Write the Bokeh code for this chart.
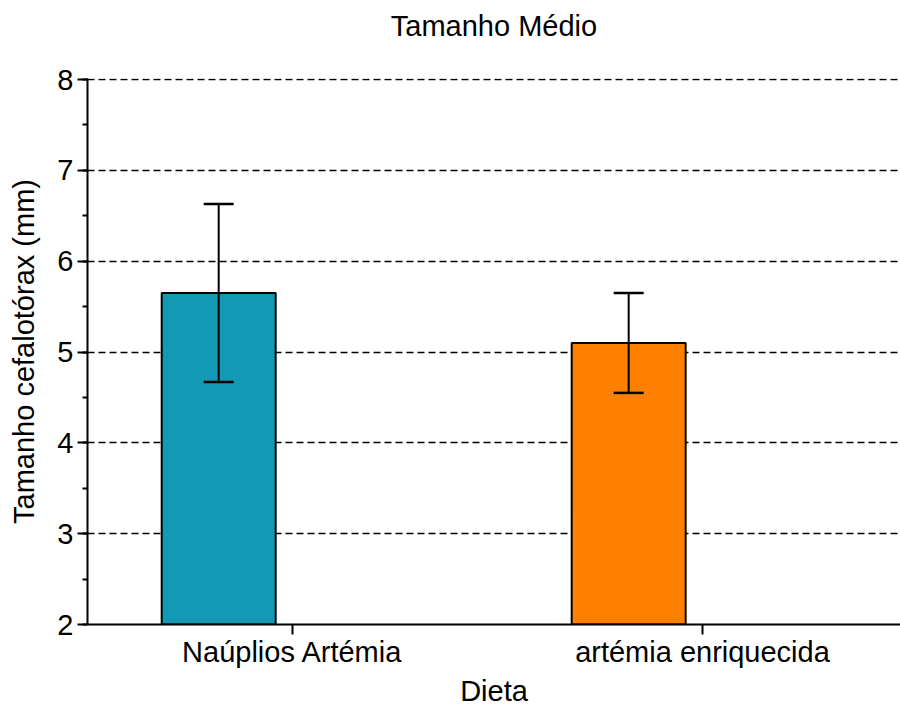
from bokeh.plotting import figure
from bokeh.models import ColumnDataSource, Range1d, FixedTicker, SingleIntervalTicker, Whisker, TeeHead, LinearAxis
from bokeh.embed import file_html
from bokeh.resources import INLINE

title_text = "Tamanho Médio"
categories = ["Naúplios Artémia", "artémia enriquecida"]
means = [5.65, 5.10]
errors = [0.98, 0.55]
colors = ["#129AB4", "#FF8000"]
y_ticks = [2, 3, 4, 5, 6, 7, 8]

FONT = "Liberation Sans"
FS = "29px"
offset = -0.18
bar_w = 0.278

pos = [i + 0.5 for i in range(len(categories))]
src = ColumnDataSource(dict(
    x=[p + offset for p in pos],
    top=means,
    upper=[m + e for m, e in zip(means, errors)],
    lower=[m - e for m, e in zip(means, errors)],
    color=colors,
))

p = figure(width=900, height=709, output_backend="svg", toolbar_location=None,
           x_range=Range1d(0, 1.983), y_range=Range1d(y_ticks[0], y_ticks[-1] + 0.012),
           min_border_left=87, min_border_right=0, min_border_top=78, min_border_bottom=78)
p.outline_line_color = None
p.background_fill_color = "white"
p.border_fill_color = "white"

# axes (take the default bottom and left axes explicitly)
xa = p.below[0]
yaxis = p.left[0]
xa.ticker = FixedTicker(ticks=pos)
xa.major_label_overrides = {pos[i]: categories[i] for i in range(len(categories))}
xa.axis_label = "Dieta"
yaxis.ticker = SingleIntervalTicker(interval=1, num_minor_ticks=2)
yaxis.axis_label = "Tamanho cefalotórax (mm)"

for ax in (xa, yaxis):
    ax.axis_line_color = "black"
    ax.axis_line_width = 2
    ax.major_tick_line_color = "black"
    ax.major_tick_line_width = 2
    ax.major_tick_out = 10
    ax.major_tick_in = 0
    ax.minor_tick_line_color = "black"
    ax.minor_tick_line_width = 2
    ax.minor_tick_out = 5
    ax.minor_tick_in = 0
    ax.major_label_text_font = FONT
    ax.major_label_text_font_size = FS
    ax.major_label_text_color = "black"
    ax.axis_label_text_font = FONT
    ax.axis_label_text_font_size = FS
    ax.axis_label_text_font_style = "normal"
    ax.axis_label_text_color = "black"
xa.minor_tick_line_color = None
xa.major_label_standoff = 1
xa.axis_label_standoff = 4
yaxis.major_label_standoff = 4
yaxis.axis_label_standoff = 14

# title drawn as the label of a bare axis above the frame
top_axis = LinearAxis(axis_label=title_text, ticker=FixedTicker(ticks=[]),
                      axis_line_color=None, major_tick_line_color=None, minor_tick_line_color=None,
                      major_tick_out=0, minor_tick_out=0, major_label_text_font_size="0px",
                      major_label_standoff=0, axis_label_standoff=37,
                      axis_label_text_font=FONT, axis_label_text_font_size=FS,
                      axis_label_text_font_style="normal", axis_label_text_color="black")
p.add_layout(top_axis, "above")

p.vbar(x="x", top="top", bottom=0, width=bar_w, source=src,
       fill_color="color", line_color="black", line_width=2)

wh = Whisker(base="x", upper="upper", lower="lower", source=src, line_color="black", line_width=2,
             upper_head=TeeHead(size=30, line_width=2.5, line_color="black"),
             lower_head=TeeHead(size=30, line_width=2.5, line_color="black"),
             level="overlay")
p.add_layout(wh)

p.xgrid.grid_line_color = None
p.ygrid.grid_line_color = "black"
p.ygrid.grid_line_width = 1.5
p.ygrid.grid_line_dash = "7 4"
p.ygrid.ticker = FixedTicker(ticks=y_ticks[1:])

open("out.html", "w").write(file_html(p, INLINE))
